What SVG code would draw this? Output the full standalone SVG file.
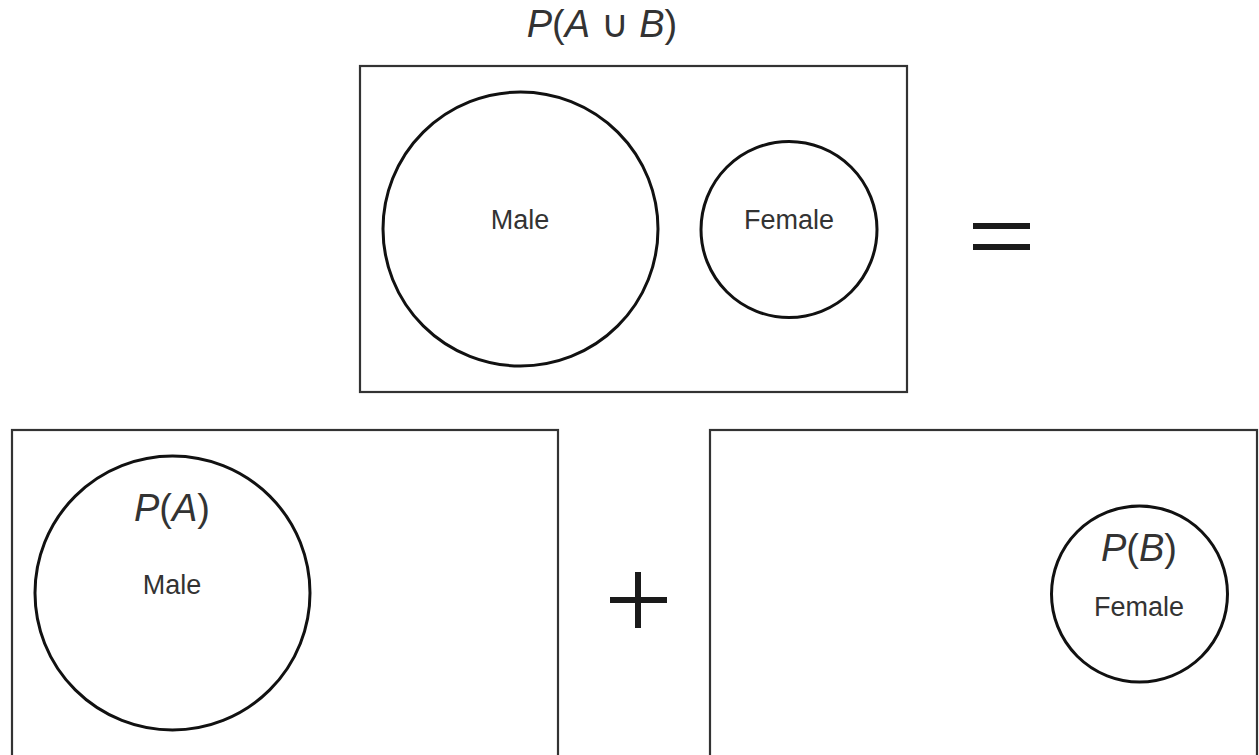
<svg xmlns="http://www.w3.org/2000/svg" width="1259" height="755" viewBox="0 0 1259 755">
<style>
.box{fill:none;stroke:#333;stroke-width:2.2}
.circ{fill:none;stroke:#111;stroke-width:3}
.lbl{font-family:"Liberation Sans",Arial,sans-serif;fill:#333;text-anchor:middle}
.name{font-size:27px}
.prob{font-size:38px}
.it{font-style:italic}
.op{fill:#1a1a1a}
</style>
<rect width="1259" height="755" fill="#fff"/>
<g id="union">
<text class="lbl prob" x="602" y="37"><tspan class="it">P</tspan>(<tspan class="it">A</tspan> ∪ <tspan class="it">B</tspan>)</text>
<rect class="box" x="360" y="66" width="547" height="326"/>
<ellipse class="circ" cx="520.5" cy="229" rx="137.5" ry="137"/>
<text class="lbl name" x="520" y="229">Male</text>
<circle class="circ" cx="789" cy="229.5" r="88"/>
<text class="lbl name" x="789" y="229">Female</text>
</g>
<g id="equals">
<rect class="op" x="973" y="223" width="57" height="6"/>
<rect class="op" x="973" y="244" width="57" height="6"/>
</g>
<g id="pa">
<rect class="box" x="12" y="430" width="546" height="330"/>
<ellipse class="circ" cx="172.5" cy="593" rx="137.5" ry="137"/>
<text class="lbl prob" x="172" y="521"><tspan class="it">P</tspan>(<tspan class="it">A</tspan>)</text>
<text class="lbl name" x="172" y="594">Male</text>
</g>
<g id="plus">
<rect class="op" x="635" y="572" width="6" height="56"/>
<rect class="op" x="610" y="597" width="57" height="6"/>
</g>
<g id="pb">
<rect class="box" x="710" y="430" width="547" height="330"/>
<circle class="circ" cx="1139.5" cy="594" r="88"/>
<text class="lbl prob" x="1139" y="561"><tspan class="it">P</tspan>(<tspan class="it">B</tspan>)</text>
<text class="lbl name" x="1139" y="616">Female</text>
</g>
<g id="connectors"></g>
</svg>
